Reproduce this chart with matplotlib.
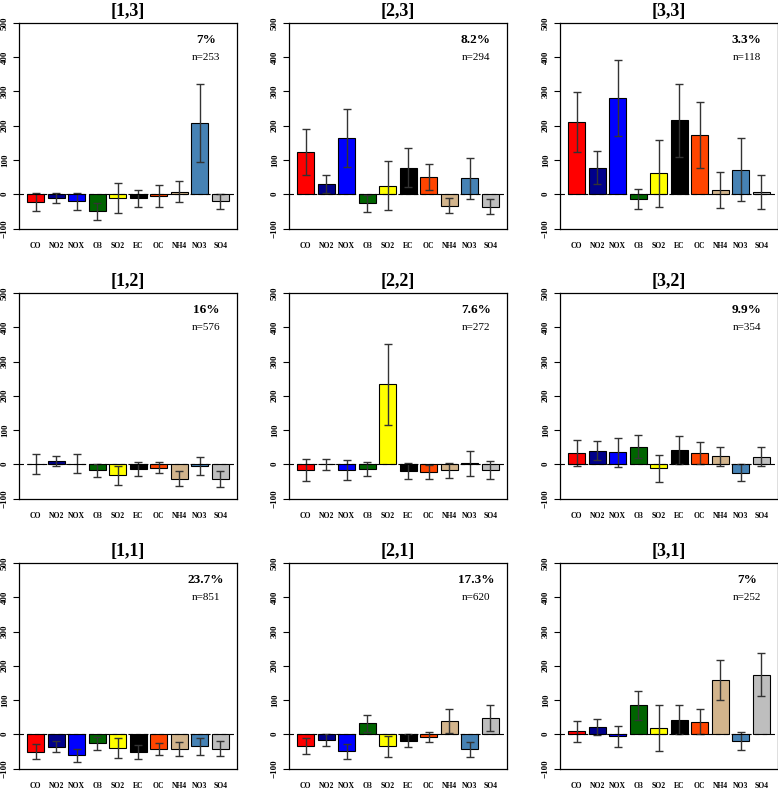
import numpy as np
import matplotlib
matplotlib.use("Agg")
import matplotlib.pyplot as plt

plt.rcParams['font.family'] = ['Liberation Serif', 'DejaVu Serif']

# species and their bar colours
species = ["CO", "NO2", "NOX", "O3", "SO2", "EC", "OC", "NH4", "NO3", "SO4"]
bar_colors = ["#FF0000", "#00008B", "#0000FF", "#006400", "#FFFF00",
              "#000000", "#FF4500", "#D2B48C", "#4682B4", "#BEBEBE"]

# percent anomaly per cluster (mean and error half-width)
vals_1_3 = [-23, -10, -21, -50, -12, -12, -5, 8, 209, -21]
errs_1_3 = [26, 15, 26, 25, 44, 25, 32, 32, 114, 23]
vals_2_3 = [123, 30, 165, -27, 25, 78, 50, -33, 46, -36]
errs_2_3 = [68, 27, 84, 24, 72, 56, 39, 23, 61, 22]
vals_3_3 = [210, 78, 281, -14, 61, 216, 173, 12, 72, 6]
errs_3_3 = [88, 49, 111, 29, 98, 107, 96, 52, 93, 49]

vals_1_2 = [0, 9, 2, -17, -32, -13, -10, -42, -6, -43]
errs_1_2 = [29, 15, 28, 19, 28, 20, 17, 22, 26, 22]
vals_2_2 = [-18, 0, -18, -13, 233, -20, -22, -18, 3, -17]
errs_2_2 = [32, 16, 29, 21, 117, 24, 21, 22, 37, 26]
vals_3_2 = [34, 40, 35, 51, -12, 42, 33, 23, -25, 22]
errs_3_2 = [38, 28, 43, 34, 39, 41, 31, 27, 25, 27]

vals_1_1 = [-51, -36, -62, -27, -41, -51, -43, -43, -35, -42]
errs_1_1 = [22, 17, 19, 20, 29, 21, 17, 21, 25, 22]
vals_2_1 = [-34, -17, -50, 32, -35, -19, -9, 38, -44, 47]
errs_2_1 = [23, 17, 22, 25, 30, 19, 15, 35, 21, 38]
vals_3_1 = [9, 21, -6, 85, 17, 42, 37, 158, -20, 174]
errs_3_1 = [31, 23, 31, 42, 67, 42, 36, 59, 27, 63]

titles = ["[1,3]", "[2,3]", "[3,3]",
          "[1,2]", "[2,2]", "[3,2]",
          "[1,1]", "[2,1]", "[3,1]"]
pcts = ["7%", "8.2%", "3.3%", "16%", "7.6%", "9.9%", "23.7%", "17.3%", "7%"]
counts = [253, 294, 118, 576, 272, 354, 851, 620, 252]
panel_vals = [vals_1_3, vals_2_3, vals_3_3, vals_1_2, vals_2_2, vals_3_2,
              vals_1_1, vals_2_1, vals_3_1]
panel_errs = [errs_1_3, errs_2_3, errs_3_3, errs_1_2, errs_2_2, errs_3_2,
              errs_1_1, errs_2_1, errs_3_1]

W, H = 778, 789
fig = plt.figure(figsize=(W / 100, H / 100), dpi=100)

col_left = [19, 289, 560]
row_top = [23, 293, 563]
ax_w, ax_h = 218, 205.5

# R barplot style positions: width 1, space 0.2
x = 0.7 + 1.2 * np.arange(len(species))
pad = 0.04 * 11.8

for k in range(9):
    r, c = divmod(k, 3)
    left = col_left[c] / W
    bottom = 1 - (row_top[r] + ax_h) / H
    ax = fig.add_axes([left, bottom, ax_w / W, ax_h / H])

    ax.bar(x, panel_vals[k], width=1.0, color=bar_colors,
           edgecolor="black", linewidth=0.8, zorder=2)
    ax.errorbar(x, panel_vals[k], yerr=panel_errs[k], fmt="none",
                ecolor="#333333", elinewidth=1.0, capsize=3,
                capthick=1.0, zorder=3)
    ax.axhline(0, color="black", linestyle=(0, (4, 3)), linewidth=0.8,
               zorder=4)

    ax.set_xlim(0.2 - pad, 12 + pad)
    ax.set_ylim(-100, 500)
    ax.set_yticks([-100, 0, 100, 200, 300, 400, 500])
    ax.set_xticks(x)
    ax.set_xticklabels(species, fontsize=5.5, fontweight="bold")
    ax.tick_params(axis="x", length=0, pad=10)
    ax.tick_params(axis="y", length=4.3, width=0.8, pad=3,
                   labelsize=6.5)
    for lab in ax.get_yticklabels():
        lab.set_rotation(90)
        lab.set_va("center")
        lab.set_fontweight("bold")
    for sp in ax.spines.values():
        sp.set_linewidth(0.9)

    ax.set_title(titles[k], fontsize=13, fontweight="bold", pad=5)
    ax.text(10.65, 450, pcts[k], ha="center", va="center",
            fontsize=9.5, fontweight="bold")
    ax.text(10.65, 400, "n=%d" % counts[k], ha="center", va="center",
            fontsize=8)

fig.savefig("out.png", dpi=100)
